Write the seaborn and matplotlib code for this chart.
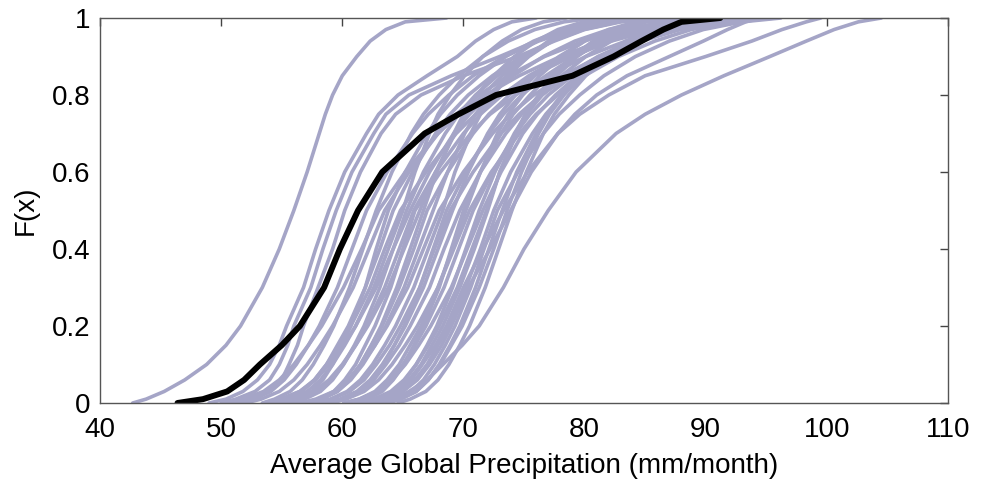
import numpy as np
import pandas as pd
import matplotlib
matplotlib.use("Agg")
import matplotlib.pyplot as plt
import seaborn as sns

# Cumulative probability levels at which each curve is read
f_levels = [0, .01, .03, .06, .1, .15, .2, .3, .4, .5, .6, .7, .75, .8, .85, .9, .94, .97, .99, 1]

# Observed / reference curve (black)
obs_x = [46.4, 48.5, 50.5, 51.9, 53.2, 55.0, 56.5, 58.5, 59.8, 61.3, 63.3, 66.8, 69.6, 72.7, 79.0, 82.4, 84.7, 86.5, 88.0, 91.2]

# Ensemble members (grey-lavender curves): x value at each level of f_levels
members = {
    "L1":  [42.7, 43.8, 45.3, 47.0, 48.8, 50.4, 51.6, 53.4, 54.8, 56.0, 57.1, 58.1, 58.6, 59.2, 60.0, 61.2, 62.3, 63.6, 65.2, 68.6],
    "L2a": [49.0, 50.4, 51.8, 53.0, 54.0, 54.8, 55.4, 56.8, 57.8, 58.9, 60.2, 62.0, 63.0, 64.6, 67.0, 69.5, 71.0, 72.5, 74.0, 76.0],
    "L2b": [50.0, 51.2, 52.8, 54.0, 54.8, 55.5, 56.0, 57.4, 58.4, 59.5, 60.8, 62.6, 63.6, 65.5, 69.0, 73.0, 76.0, 78.5, 81.0, 84.0],
    "L2c": [51.0, 52.2, 53.8, 55.0, 55.6, 56.3, 56.8, 58.0, 59.2, 60.2, 61.5, 63.2, 64.4, 66.5, 70.0, 74.5, 77.5, 80.0, 83.0, 86.0],
    "B1":  [51.5, 52.7, 54.1, 55.2, 56.2, 57.2, 58.1, 59.6, 60.8, 62.0, 63.7, 65.8, 67.1, 68.8, 70.8, 73.4, 76.2, 79.0, 82.2, 85.4],
    "B2":  [53.4, 54.4, 55.7, 56.7, 57.6, 58.5, 59.3, 60.6, 61.7, 62.8, 64.1, 65.7, 66.7, 68.0, 69.6, 71.6, 73.7, 75.9, 78.3, 80.8],
    "B3":  [52.0, 53.3, 54.8, 56.0, 57.1, 58.2, 59.2, 60.9, 62.2, 63.5, 65.5, 67.9, 69.4, 71.3, 73.7, 76.7, 79.9, 83.2, 86.8, 90.5],
    "B4":  [54.2, 55.4, 56.7, 57.7, 58.7, 59.6, 60.5, 61.9, 63.1, 64.2, 65.8, 67.7, 68.9, 70.4, 72.4, 74.8, 77.3, 79.9, 82.8, 85.8],
    "B5":  [53.8, 55.0, 56.5, 57.7, 58.7, 59.8, 60.7, 62.3, 63.5, 64.8, 66.9, 69.4, 71.0, 73.1, 75.7, 78.9, 82.2, 85.8, 89.6, 93.6],
    "B6":  [55.9, 56.9, 58.2, 59.2, 60.1, 61.0, 61.8, 63.1, 64.2, 65.3, 66.7, 68.5, 69.6, 71.0, 72.8, 75.0, 77.3, 79.7, 82.4, 85.1],
    "B7":  [55.4, 56.6, 58.0, 59.1, 60.1, 61.1, 62.0, 63.5, 64.7, 65.9, 67.7, 70.0, 71.4, 73.2, 75.4, 78.2, 81.2, 84.2, 87.6, 91.1],
    "B8":  [54.9, 56.2, 57.7, 58.9, 60.0, 61.1, 62.1, 63.8, 65.1, 66.4, 67.7, 69.3, 70.3, 71.6, 73.2, 75.2, 77.3, 79.5, 81.9, 84.4],
    "B9":  [57.0, 58.2, 59.5, 60.5, 61.5, 62.4, 63.3, 64.7, 65.9, 67.0, 68.7, 70.8, 72.1, 73.8, 75.8, 78.4, 81.2, 84.0, 87.2, 90.4],
    "B10": [57.0, 58.2, 59.6, 60.7, 61.7, 62.7, 63.6, 65.1, 66.3, 67.5, 68.7, 70.1, 71.0, 72.2, 73.6, 75.4, 77.3, 79.3, 81.5, 83.7],
    "B11": [56.5, 57.8, 59.3, 60.5, 61.6, 62.7, 63.7, 65.4, 66.7, 68.0, 70.0, 72.4, 73.9, 75.8, 78.2, 81.2, 84.4, 87.7, 91.3, 95.0],
    "B12": [59.2, 60.2, 61.5, 62.5, 63.4, 64.3, 65.1, 66.4, 67.5, 68.6, 70.2, 72.1, 73.3, 74.8, 76.8, 79.2, 81.7, 84.3, 87.2, 90.2],
    "B13": [58.6, 59.8, 61.2, 62.3, 63.3, 64.3, 65.2, 66.7, 67.9, 69.1, 70.4, 72.0, 73.0, 74.3, 75.9, 77.9, 80.0, 82.2, 84.6, 87.1],
    "B14": [58.7, 59.9, 61.4, 62.6, 63.6, 64.7, 65.6, 67.2, 68.4, 69.7, 71.4, 73.5, 74.8, 76.5, 78.5, 81.1, 83.9, 86.7, 89.9, 93.1],
    "B15": [60.2, 61.4, 62.7, 63.7, 64.7, 65.6, 66.5, 67.9, 69.1, 70.2, 71.4, 72.8, 73.7, 74.9, 76.3, 78.1, 80.0, 82.0, 84.2, 86.4],
    "B16": [60.3, 61.5, 62.9, 64.0, 65.0, 66.0, 66.9, 68.4, 69.6, 70.8, 72.4, 74.3, 75.5, 77.0, 79.0, 81.4, 83.9, 86.5, 89.4, 92.4],
    "B17": [61.9, 62.9, 64.2, 65.2, 66.1, 67.0, 67.8, 69.1, 70.2, 71.3, 72.6, 74.2, 75.2, 76.5, 78.1, 80.1, 82.2, 84.4, 86.8, 89.3],
    "B18": [61.4, 62.6, 64.0, 65.1, 66.1, 67.1, 68.0, 69.5, 70.7, 71.9, 73.0, 74.4, 75.2, 76.3, 77.7, 79.4, 81.2, 83.0, 85.1, 87.2],
    "B19": [62.5, 63.7, 65.0, 66.0, 67.0, 67.9, 68.8, 70.2, 71.4, 72.5, 73.9, 75.7, 76.8, 78.2, 80.0, 82.2, 84.5, 86.9, 89.6, 92.3],
    "B20": [63.8, 64.8, 66.1, 67.1, 68.0, 68.9, 69.7, 71.0, 72.1, 73.2, 74.4, 76.0, 76.9, 78.1, 79.7, 81.6, 83.6, 85.6, 87.9, 90.3],
    "B21": [64.6, 65.6, 66.9, 67.9, 68.8, 69.7, 70.5, 71.8, 72.9, 74.0, 75.2, 76.6, 77.5, 78.7, 80.1, 81.9, 83.8, 85.8, 88.0, 90.2],
    "B23": [50.4, 51.8, 53.5, 54.8, 56.0, 57.2, 58.3, 60.1, 61.6, 63.0, 65.2, 67.9, 69.6, 71.8, 74.6, 78.0, 81.5, 85.3, 89.4, 93.6],
    "B24": [57.1, 58.1, 59.3, 60.2, 61.1, 61.9, 62.7, 64.0, 65.0, 66.0, 68.1, 70.6, 72.2, 74.3, 76.9, 80.1, 83.4, 87.0, 90.8, 94.8],
    "B25": [57.8, 59.0, 60.4, 61.5, 62.5, 63.5, 64.4, 65.9, 67.1, 68.3, 69.3, 70.6, 71.4, 72.5, 73.7, 75.3, 77.0, 78.8, 80.7, 82.7],
    "B26": [58.9, 60.3, 61.8, 63.0, 64.1, 65.2, 66.2, 67.9, 69.2, 70.5, 72.3, 74.6, 76.0, 77.8, 80.0, 82.8, 85.8, 88.8, 92.2, 95.7],
    "B27": [62.0, 63.2, 64.5, 65.5, 66.5, 67.4, 68.3, 69.7, 70.9, 72.0, 73.0, 74.3, 75.1, 76.2, 77.4, 79.0, 80.7, 82.5, 84.4, 86.4],
    "B28": [54.5, 55.7, 57.1, 58.2, 59.2, 60.2, 61.1, 62.6, 63.8, 65.0, 66.0, 67.2, 67.9, 68.9, 70.1, 71.6, 73.2, 74.8, 76.6, 78.5],
    "B29": [55.4, 56.4, 57.5, 58.4, 59.2, 60.0, 60.7, 61.9, 62.8, 63.8, 65.2, 67.0, 68.1, 69.5, 71.3, 73.5, 75.8, 78.2, 80.9, 83.6],
    "B30": [53.5, 54.9, 56.5, 57.8, 58.9, 60.1, 61.1, 62.8, 64.2, 65.6, 67.2, 69.2, 70.5, 72.1, 74.1, 76.6, 79.2, 82.0, 85.0, 88.1],
    "B31": [57.2, 58.3, 59.6, 60.6, 61.5, 62.4, 63.2, 64.5, 65.6, 66.7, 67.8, 69.2, 70.0, 71.1, 72.5, 74.2, 76.0, 77.8, 79.9, 82.0],
    "B32": [57.9, 59.1, 60.6, 61.8, 62.8, 63.9, 64.8, 66.4, 67.6, 68.9, 70.8, 73.1, 74.6, 76.4, 78.8, 81.7, 84.7, 87.9, 91.4, 95.0],
    "B33": [61.1, 62.1, 63.3, 64.2, 65.1, 65.9, 66.7, 68.0, 69.0, 70.0, 71.4, 73.1, 74.1, 75.5, 77.1, 79.2, 81.5, 83.8, 86.3, 88.9],
    "B34": [60.1, 61.4, 62.9, 64.1, 65.2, 66.3, 67.3, 69.0, 70.3, 71.6, 73.1, 74.9, 76.1, 77.6, 79.4, 81.7, 84.1, 86.7, 89.4, 92.3],
    "B35": [63.4, 64.4, 65.7, 66.7, 67.6, 68.5, 69.3, 70.6, 71.7, 72.8, 74.5, 76.6, 77.9, 79.6, 81.6, 84.2, 87.0, 89.8, 93.0, 96.2],
    "B36": [63.6, 64.8, 66.1, 67.1, 68.1, 69.0, 69.9, 71.3, 72.5, 73.6, 74.8, 76.2, 77.1, 78.3, 79.7, 81.5, 83.4, 85.4, 87.6, 89.8],
    "R2":  [63.0, 63.9, 65.0, 66.2, 67.2, 68.2, 69.0, 70.4, 72.2, 73.9, 75.6, 77.8, 79.2, 81.0, 83.5, 87.0, 89.8, 91.8, 93.3, 94.5],
    "B22": [62.5, 63.4, 64.6, 65.7, 66.6, 67.7, 68.6, 70.0, 71.6, 73.3, 75.3, 77.8, 79.6, 82.0, 85.0, 90.0, 93.8, 96.3, 98.3, 99.5],
    "R1":  [63.5, 64.3, 65.5, 67.0, 68.3, 69.9, 71.3, 73.3, 75.0, 77.0, 79.3, 82.6, 85.0, 88.0, 91.5, 95.3, 98.3, 100.6, 102.6, 104.5],
}

x_ticks = [40, 50, 60, 70, 80, 90, 100, 110]
y_ticks = [0, 0.2, 0.4, 0.6, 0.8, 1]
y_tick_labels = ["0", "0.2", "0.4", "0.6", "0.8", "1"]
x_label = "Average Global Precipitation (mm/month)"
y_label = "F(x)"

grey = "#a5a5c7"

rows = []
for name, xs in members.items():
    for xv, fv in zip(xs, f_levels):
        rows.append({"member": name, "x": xv, "F": fv})
ens = pd.DataFrame(rows)
obs = pd.DataFrame({"x": obs_x, "F": f_levels})

sns.set_theme(style="white")
plt.rcParams["font.family"] = ["Liberation Sans", "DejaVu Sans"]

fig = plt.figure(figsize=(9.83, 4.79), dpi=100)
ax = fig.add_axes([100 / 983, 1 - 403 / 479, 848 / 983, 385 / 479])

sns.lineplot(data=ens, x="x", y="F", units="member", estimator=None, sort=False,
             color=grey, lw=2.6, ax=ax, legend=False, solid_joinstyle="round",
             solid_capstyle="round")
sns.lineplot(data=obs, x="x", y="F", estimator=None, sort=False,
             color="black", lw=4.3, ax=ax, legend=False, solid_joinstyle="round")

ax.set_xlim(40, 110)
ax.set_ylim(0, 1)
ax.set_xticks(x_ticks)
ax.set_xticklabels([str(t) for t in x_ticks])
ax.set_yticks(y_ticks)
ax.set_yticklabels(y_tick_labels)
ax.tick_params(direction="in", length=6, width=1, color="#444444",
               top=True, right=True, labelsize=20, labelcolor="black")
ax.tick_params(axis="x", pad=10)
ax.tick_params(axis="y", pad=7)
for s in ax.spines.values():
    s.set_color("#555555")
    s.set_linewidth(1.0)
ax.set_xlabel(x_label, fontsize=20, labelpad=7, color="black")
ax.set_ylabel(y_label, fontsize=20, labelpad=9, color="black")

fig.savefig("out.png", dpi=100, facecolor="white")
